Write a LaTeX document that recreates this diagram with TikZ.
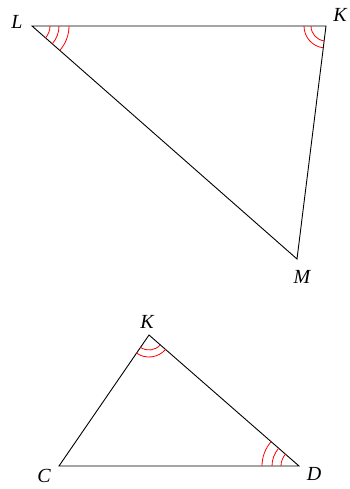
\documentclass[tikz,border=0pt]{standalone}
\usepackage{fontspec}
\setmainfont{Liberation Serif}
\usetikzlibrary{angles, positioning}

\begin{document}
\begin{tikzpicture}[
  x=1pt, y=1pt,
  font=\fontsize{20}{24}\selectfont\itshape,
  tside/.style={draw=black, line width=0.9pt, line join=miter},
  tmark/.style={draw=red, line width=0.8pt},
  tlbl/.style={inner sep=0pt}
]
\useasboundingbox (0,0) rectangle (349,489);

% ---------------------------------------------- first triangle
\coordinate (L) at (32,463);
\coordinate (K) at (326,463);
\coordinate (M) at (297,230);
\draw[tside] (L) -- (K) -- (M) -- cycle;

\node[tlbl] (lblL) at (17,467) {L};
\node[tlbl] (lblK) at (340,474) {K};
\node[tlbl] (lblM) at (302,212) {M};

% ---------------------------------------------- second triangle
\coordinate (K2) at (149,154);
\coordinate (C) at (59,23);
\coordinate (D) at (299,23);
\draw[tside] (K2) -- (C) -- (D) -- cycle;

\node[tlbl] (lblK2) at (147,167) {K};
\node[tlbl] (lblC) at (44,13) {C};
\node[tlbl] (lblD) at (314,15) {D};

% ---------------------------------------------- angle marks
\foreach \r in {18,27,37} {
  \pic[tmark, angle radius=\r pt] {angle = M--L--K};
  \pic[tmark, angle radius=\r pt] {angle = K2--D--C};
}
\foreach \r in {15,22} {
  \pic[tmark, angle radius=\r pt] {angle = L--K--M};
  \pic[tmark, angle radius=\r pt] {angle = C--K2--D};
}

\end{tikzpicture}
\end{document}
